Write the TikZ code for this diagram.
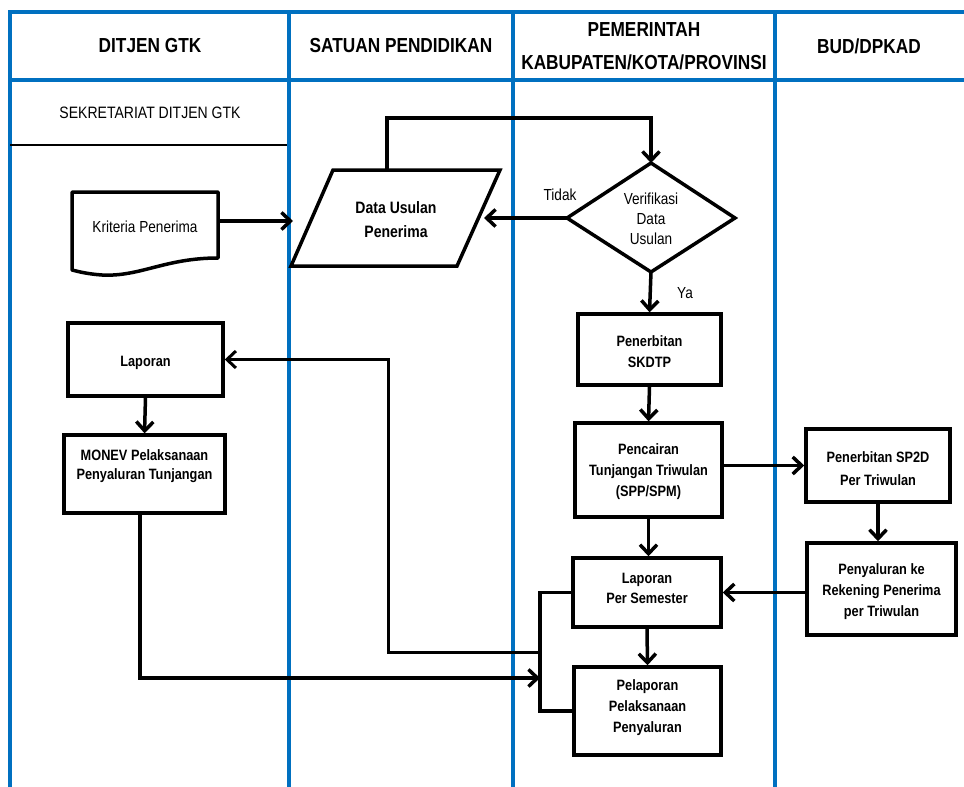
\documentclass[tikz,border=0pt]{standalone}
\usepackage{fontspec}
\setmainfont{Liberation Sans}[FakeStretch=0.85]
\usetikzlibrary{arrows.meta,calc}
\definecolor{lanecol}{HTML}{0070C0}
\begin{document}
\begin{tikzpicture}[x=1pt,y=-1pt,
  laneline/.style={draw=lanecol,line width=4pt},
  box/.style={draw,line width=3.5pt,rectangle,inner sep=0pt},
  txt/.style={align=center,inner sep=0pt,font=\fontsize{15}{21}\selectfont\bfseries},
  rtxt/.style={align=center,inner sep=0pt,font=\fontsize{16}{20}\selectfont},
  hdr/.style={align=center,inner sep=0pt,font=\fontsize{20.3}{33}\selectfont\bfseries},
  conn/.style={draw,line width=3.5pt,-{Straight Barb[length=9pt,width=17pt]}},
  plain/.style={draw,line width=3.5pt},
  thinconn/.style={draw,line width=3pt,-{Straight Barb[length=9pt,width=17pt]}}
]
\useasboundingbox (0,0) rectangle (964,787);
% swimlanes
\draw[laneline] (8,12) -- (964,12);
\draw[laneline] (8,80) -- (964,80);
\foreach \x in {10,289,513,775} \draw[laneline] (\x,10) -- (\x,787);
% headers
\node[hdr] (h1) at (150,46) {DITJEN GTK};
\node[hdr] (h2) at (401,46) {SATUAN PENDIDIKAN};
\node[hdr] (h3) at (644,46) {PEMERINTAH\\KABUPATEN/KOTA/PROVINSI};
\node[hdr] (h4) at (869,46) {BUD/DPKAD};
\node[rtxt,font=\fontsize{16.5}{20}\selectfont] (sek) at (150,113) {SEKRETARIAT DITJEN GTK};
\draw[line width=2.5pt] (10,145) -- (287,145);

% Kriteria Penerima (document)
\draw[line width=3.5pt,line join=round] (72,192) -- (218,192) -- (218,258)
   .. controls (165,258) and (140,277) .. (102,275)
   .. controls (88,274) and (80,272) .. (72,270) -- cycle;
\node[rtxt,minimum width=146pt] (krit) at (145,227) {Kriteria Penerima};
\coordinate (datL) at (293,221);

% Data Usulan Penerima (parallelogram)
\draw[line width=3.5pt,line join=miter] (333,170) -- (500,170) -- (457,266) -- (291,266) -- cycle;
\node[txt,font=\fontsize{16.5}{24}\selectfont\bfseries] (dat) at (396,220) {Data Usulan\\Penerima};
\coordinate (datT) at (387,170);
\coordinate (datR) at (484,218);

% Verifikasi (diamond)
\coordinate (vt) at (651,163);
\coordinate (vr) at (735,218);
\coordinate (vb) at (651,272);
\coordinate (vl) at (567,218);
\draw[line width=3.5pt,line join=miter] (vt) -- (vr) -- (vb) -- (vl) -- cycle;
\node[rtxt] (ver) at (651,219) {Verifikasi\\Data\\Usulan};
\node[rtxt] (tidak) at (560,195) {Tidak};
\node[rtxt] (ya) at (685,293) {Ya};

% boxes
\node[box,minimum width=143pt,minimum height=71pt] (skdtp) at (649.5,349.5) {};
\node[txt] at ($(skdtp.center)+(0,2)$) {Penerbitan\\SKDTP};
\node[box,minimum width=147pt,minimum height=94pt] (penc) at (648.5,470) {};
\node[txt] at ($(penc.center)+(0,2)$) {Pencairan\\Tunjangan Triwulan\\(SPP/SPM)};
\node[box,minimum width=144pt,minimum height=73pt] (sp2d) at (878,465.5) {};
\node[txt,font=\fontsize{15}{23}\selectfont\bfseries] at ($(sp2d.center)+(0,3)$) {Penerbitan SP2D\\Per Triwulan};
\node[box,minimum width=149pt,minimum height=92pt] (peny) at (881.5,589) {};
\node[txt] at ($(peny.center)+(0,3)$) {Penyaluran ke\\Rekening Penerima\\per Triwulan};
\node[box,minimum width=148pt,minimum height=69pt] (lps) at (647,592.5) {};
\node[txt,font=\fontsize{15}{20}\selectfont\bfseries] at ($(lps.center)+(0,-4)$) {Laporan\\Per Semester};
\node[box,minimum width=147pt,minimum height=88pt] (pel) at (647.5,711) {};
\node[txt] at ($(pel.center)+(0,-3)$) {Pelaporan\\Pelaksanaan\\Penyaluran};
\node[box,minimum width=155pt,minimum height=73pt] (lap) at (145.5,359.5) {};
\node[txt] at ($(lap.center)+(0,3)$) {Laporan};
\node[box,minimum width=161pt,minimum height=78pt] (monev) at (144.5,474) {};
\node[txt,font=\fontsize{15}{19}\selectfont\bfseries] at ($(monev.center)+(0,-8)$) {MONEV Pelaksanaan\\Penyaluran Tunjangan};

% connectors
\draw[conn] (218,221) -- (datL);
\draw[conn] (datT) -- ++(0,-52) -| (vt);
\draw[conn] (vl) -- (datR);
\draw[conn] (vb) -- (skdtp.north);
\draw[conn] (skdtp.south) -- (penc.north);
\draw[conn] (sp2d.west -| penc.east) -- (sp2d.west);
\draw[conn] (sp2d.south) -- (sp2d.south |- peny.north);
\draw[conn] (penc.south) -- (penc.south |- lps.north);
\draw[conn] (lps.east -| peny.west) -- (lps.east);
\draw[conn] (lps.south) -- (pel.north);
\draw[conn] (lap.south) -- (monev.north);

% bracket
\coordinate (brA) at (540,652);
\coordinate (brB) at (540,678);
\draw[plain,line join=miter] (lps.west) -| (brA) |- (pel.west);
\draw[plain] (brA) -- (brB);
\draw[thinconn] (brA) -- (388,652) |- (lap.east);
\draw[conn] (140,513) |- (brB);
\end{tikzpicture}
\end{document}
